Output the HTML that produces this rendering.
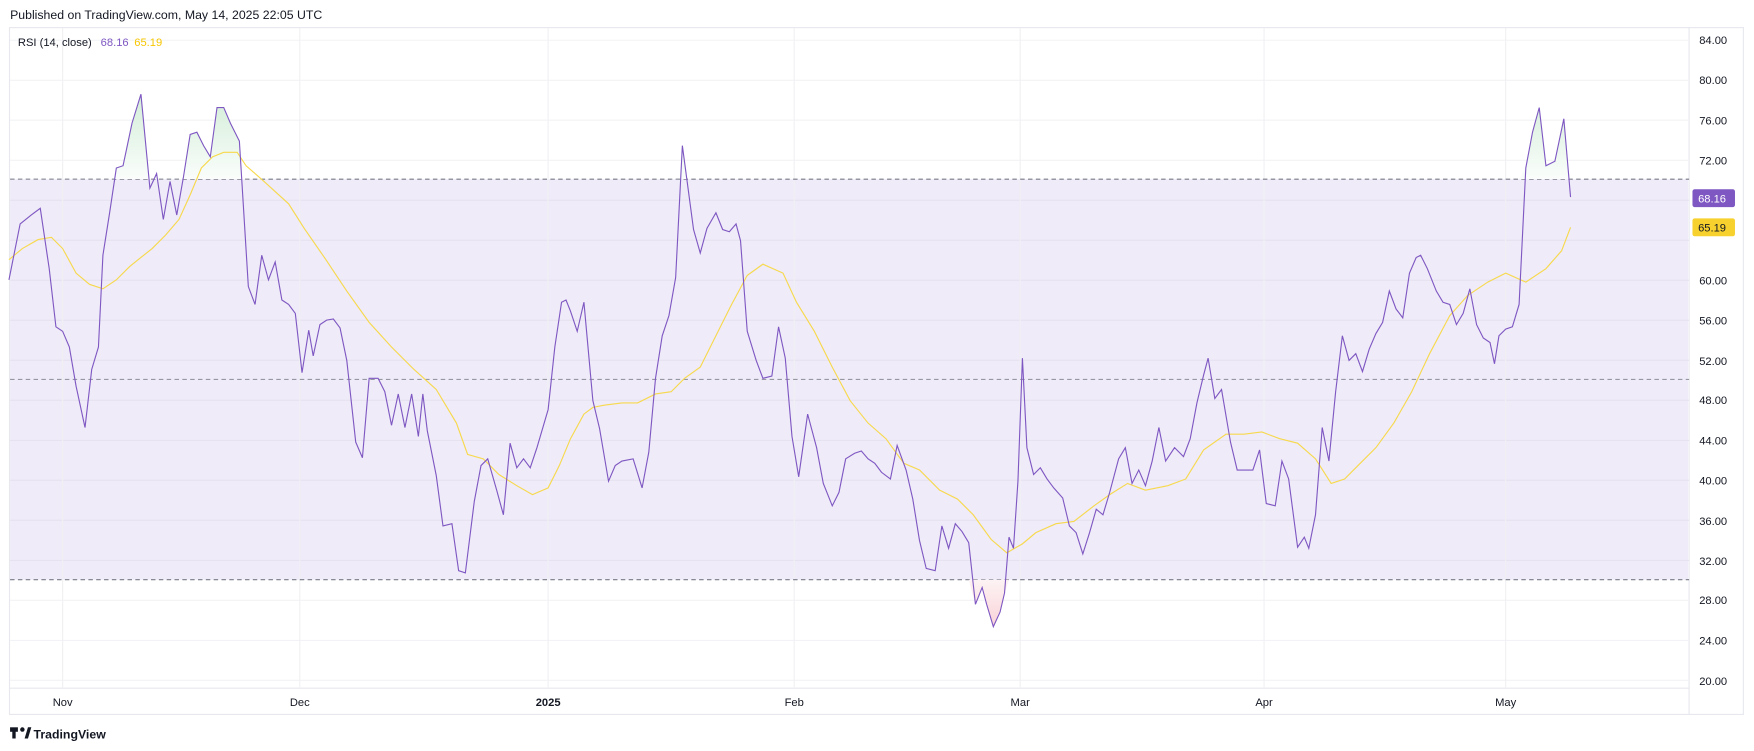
<!DOCTYPE html>
<html><head><meta charset="utf-8"><style>
html,body{margin:0;padding:0;background:#fff;}
svg{display:block;font-family:"Liberation Sans",sans-serif;}
</style></head><body>
<svg width="1754" height="751" viewBox="0 0 1568 671" xmlns="http://www.w3.org/2000/svg">
<defs>
<clipPath id="above"><rect x="0" y="0" width="1510" height="160"/></clipPath>
<clipPath id="below"><rect x="0" y="518" width="1510" height="200"/></clipPath>
<linearGradient id="gg" gradientUnits="userSpaceOnUse" x1="0" y1="84" x2="0" y2="160"><stop offset="0" stop-color="#d3eed8"/><stop offset="1" stop-color="#fafdfb"/></linearGradient>
<linearGradient id="rg" gradientUnits="userSpaceOnUse" x1="0" y1="560" x2="0" y2="518"><stop offset="0" stop-color="#f9d3d8"/><stop offset="1" stop-color="#fdf3f4"/></linearGradient>
</defs>
<rect x="0" y="0" width="1568" height="671" fill="#fff"/>
<text x="9" y="17" font-size="11" fill="#131722">Published on TradingView.com, May 14, 2025 22:05 UTC</text>
<rect x="8.5" y="24.5" width="1550" height="614" fill="none" stroke="#e6e8ee"/>
<line x1="1510" y1="24" x2="1510" y2="639" stroke="#e6e8ee"/>
<line x1="8" y1="615" x2="1510" y2="615" stroke="#e6e8ee"/>
<rect x="9" y="160" width="1500" height="358" fill="#efebf8"/>
<g stroke="#f2f3f6" stroke-width="1">
<line x1="9" x2="1510" y1="35.8" y2="35.8"/><line x1="9" x2="1510" y1="71.6" y2="71.6"/><line x1="9" x2="1510" y1="107.3" y2="107.3"/><line x1="9" x2="1510" y1="143.1" y2="143.1"/><line x1="9" x2="1510" y1="178.9" y2="178.9" stroke="#e6e2f0"/><line x1="9" x2="1510" y1="214.6" y2="214.6" stroke="#e6e2f0"/><line x1="9" x2="1510" y1="250.4" y2="250.4" stroke="#e6e2f0"/><line x1="9" x2="1510" y1="286.2" y2="286.2" stroke="#e6e2f0"/><line x1="9" x2="1510" y1="321.9" y2="321.9" stroke="#e6e2f0"/><line x1="9" x2="1510" y1="357.7" y2="357.7" stroke="#e6e2f0"/><line x1="9" x2="1510" y1="393.5" y2="393.5" stroke="#e6e2f0"/><line x1="9" x2="1510" y1="429.2" y2="429.2" stroke="#e6e2f0"/><line x1="9" x2="1510" y1="465" y2="465" stroke="#e6e2f0"/><line x1="9" x2="1510" y1="500.8" y2="500.8" stroke="#e6e2f0"/><line x1="9" x2="1510" y1="536.5" y2="536.5"/><line x1="9" x2="1510" y1="572.3" y2="572.3"/><line x1="9" x2="1510" y1="608" y2="608"/>
</g>
<g stroke="#f0f0f4" stroke-width="1">
<line x1="56" x2="56" y1="25" y2="615"/><line x1="268" x2="268" y1="25" y2="615"/><line x1="490" x2="490" y1="25" y2="615"/><line x1="710" x2="710" y1="25" y2="615"/><line x1="912" x2="912" y1="25" y2="615"/><line x1="1130" x2="1130" y1="25" y2="615"/><line x1="1346" x2="1346" y1="25" y2="615"/>
</g>
<g stroke="#787b86" stroke-width="1" stroke-dasharray="4,3">
<line x1="9" x2="1510" y1="160" y2="160"/><line x1="9" x2="1510" y1="339" y2="339" stroke="#9598a1"/><line x1="9" x2="1510" y1="518" y2="518"/>
</g>
<polygon clip-path="url(#above)" fill="url(#gg)" points="8,160 8,250 18,200 28,192 36,186 44,240 50,292 56,296 62,310 68,345 76,382 82,330 88,310 92,228 98,190 104,150 110,148 118,110 126,84 134,168 140,155 146,196 152,162 158,192 164,158 170,120 176,118 182,130 188,140 194,96 200,96 206,110 214,126 222,256 222,160 600,160 604,248 610,130 614,160 1358,160 1364,150 1370,118 1376,96 1382,148 1390,144 1398,106 1404,176 1404,160"/>
<polygon clip-path="url(#below)" fill="url(#rg)" points="866,518 872,540 878,525 882,540 888,560 894,547 898,530 902,518"/>
<polyline fill="none" stroke="#f7d94c" stroke-width="1" points="8,232 20,222 34,214 46,212 56,222 68,244 80,254 92,258 104,250 116,238 126,230 136,222 148,210 160,196 170,174 180,150 190,140 200,136 212,136 220,148 236,162 258,182 272,204 290,230 310,260 330,288 350,310 370,330 390,348 408,378 418,406 432,410 446,424 462,434 476,442 490,436 500,416 510,392 522,370 530,364 540,362 556,360 570,360 586,352 600,350 612,338 626,328 640,300 654,272 668,246 682,236 700,244 712,270 728,296 744,328 760,358 776,378 792,392 808,414 822,420 840,438 856,446 870,460 886,482 900,494 914,486 926,476 944,468 960,466 978,452 992,442 1008,432 1024,438 1044,434 1060,428 1076,402 1096,388 1112,388 1128,386 1144,392 1160,396 1176,410 1190,432 1202,428 1214,416 1230,400 1246,378 1262,350 1278,316 1296,282 1312,264 1330,252 1346,244 1364,252 1382,240 1396,224 1404,203"/>
<polyline fill="none" stroke="#7e57c2" stroke-width="1" points="8,250 18,200 28,192 36,186 44,240 50,292 56,296 62,310 68,345 76,382 82,330 88,310 92,228 98,190 104,150 110,148 118,110 126,84 134,168 140,155 146,196 152,162 158,192 164,158 170,120 176,118 182,130 188,140 194,96 200,96 206,110 214,126 222,256 228,272 234,228 240,250 246,234 252,268 258,272 264,280 270,333 276,295 280,318 286,290 292,286 298,285 304,293 310,322 318,395 324,409 330,338 338,338 344,350 350,380 356,352 362,382 368,352 374,390 378,352 382,385 390,425 396,470 404,468 410,510 416,512 424,448 430,416 436,410 444,438 450,460 456,396 462,418 468,410 474,418 480,400 490,366 496,310 502,270 506,268 510,278 516,296 522,270 530,358 536,383 544,430 550,416 556,412 566,410 574,436 580,404 586,338 592,300 598,282 604,248 610,130 614,160 620,205 626,226 632,204 640,190 646,205 652,207 658,200 662,215 668,296 676,322 682,338 690,336 696,292 702,320 708,390 714,426 722,370 730,400 736,432 744,452 750,440 756,410 764,405 770,403 776,410 782,414 788,422 796,428 802,398 810,420 816,446 822,483 828,508 836,510 842,470 848,490 854,468 860,475 866,485 872,540 878,525 882,540 888,560 894,547 898,530 902,480 906,490 910,430 914,320 918,400 924,424 930,418 936,428 942,436 950,445 956,470 962,476 968,495 974,476 980,455 986,460 992,440 1000,410 1006,400 1012,432 1018,420 1024,434 1030,412 1036,382 1042,412 1050,400 1058,408 1064,392 1070,360 1076,335 1080,320 1086,356 1092,348 1100,395 1106,420 1112,420 1120,420 1126,402 1132,450 1140,452 1146,412 1152,428 1160,489 1166,480 1170,490 1176,460 1182,382 1188,412 1194,350 1200,300 1206,322 1212,316 1218,332 1224,312 1230,298 1236,288 1242,260 1248,276 1254,284 1260,244 1266,230 1270,228 1276,240 1284,260 1290,270 1296,272 1302,290 1308,280 1314,258 1320,290 1326,302 1332,306 1336,325 1340,300 1346,294 1352,292 1358,272 1364,150 1370,118 1376,96 1382,148 1390,144 1398,106 1404,176"/>
<text x="16" y="41" font-size="10" fill="#131722">RSI (14, close)</text>
<text x="90" y="41" font-size="10" fill="#7e57c2">68.16</text>
<text x="120" y="41" font-size="10" fill="#f7c600">65.19</text>
<g font-size="10" fill="#131722">
<text x="1519" y="39">84.00</text><text x="1519" y="75">80.00</text><text x="1519" y="111">76.00</text><text x="1519" y="147">72.00</text><text x="1519" y="254">60.00</text><text x="1519" y="290">56.00</text><text x="1519" y="326">52.00</text><text x="1519" y="361">48.00</text><text x="1519" y="397">44.00</text><text x="1519" y="433">40.00</text><text x="1519" y="469">36.00</text><text x="1519" y="505">32.00</text><text x="1519" y="540">28.00</text><text x="1519" y="576">24.00</text><text x="1519" y="612">20.00</text>
</g>
<rect x="1513" y="169" width="38" height="16" rx="2" fill="#7e57c2"/>
<text x="1518" y="181" font-size="10" fill="#fff">68.16</text>
<rect x="1513" y="195" width="38" height="16" rx="2" fill="#f7d12e"/>
<text x="1518" y="207" font-size="10" fill="#131722">65.19</text>
<g font-size="10" fill="#131722" text-anchor="middle">
<text x="56" y="631">Nov</text><text x="268" y="631">Dec</text><text x="490" y="631" font-weight="bold">2025</text><text x="710" y="631">Feb</text><text x="912" y="631">Mar</text><text x="1130" y="631">Apr</text><text x="1346" y="631">May</text>
</g>
<g transform="translate(9,650)">
<rect x="0" y="0" width="7" height="4" fill="#131722"/><rect x="2" y="3" width="3" height="7" fill="#131722"/><circle cx="11" cy="2" r="2" fill="#131722"/><polygon points="13,10 16,0 19,0 16,10" fill="#131722"/>
</g>
<text x="30" y="660" font-size="11" font-weight="bold" fill="#131722">TradingView</text>
</svg>
</body></html>
